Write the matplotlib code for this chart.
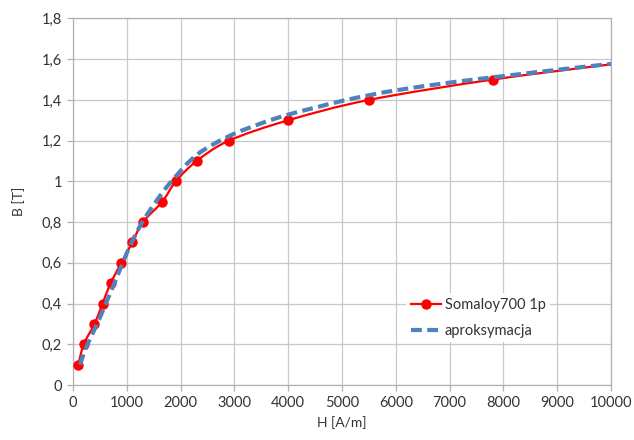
import matplotlib
matplotlib.use("Agg")
import matplotlib.pyplot as plt
from matplotlib.path import Path
from matplotlib.patches import PathPatch
from matplotlib.lines import Line2D
import numpy as np

plt.rcParams['font.family'] = ['Lato', 'DejaVu Sans']

# Measured series: Somaloy700 1p
meas_H = [100, 200, 400, 550, 700, 900, 1100, 1300, 1660, 1910, 2300, 2900, 4000, 5500, 7800, 10000]
meas_B = [0.1, 0.2, 0.3, 0.4, 0.5, 0.6, 0.7, 0.8, 0.9, 1.0, 1.1, 1.2, 1.3, 1.4, 1.5, 1.575]
n_markers = 15  # last point drawn without marker

# Approximation series
apr_H = [130, 270, 450, 610, 770, 925, 1090, 1290, 1540, 1830, 2300, 2900, 3500, 4000, 4500,
         5000, 5500, 6000, 7000, 8000, 9000, 10000]
apr_B = [0.1, 0.2, 0.3, 0.4, 0.5, 0.6, 0.7, 0.8, 0.9, 1.0, 1.13, 1.222, 1.285, 1.328, 1.362,
         1.395, 1.423, 1.447, 1.485, 1.517, 1.548, 1.577]

x_ticks = list(range(0, 10001, 1000))
y_ticks = [0, 0.2, 0.4, 0.6, 0.8, 1.0, 1.2, 1.4, 1.6, 1.8]
y_labels = ['0', '0,2', '0,4', '0,6', '0,8', '1', '1,2', '1,4', '1,6', '1,8']


def smooth_path(xs, ys):
    p = np.column_stack([xs, ys]).astype(float)
    n = len(p)
    verts = [p[0]]
    codes = [Path.MOVETO]
    for i in range(n - 1):
        p0 = p[i - 1] if i > 0 else p[i]
        p1 = p[i]
        p2 = p[i + 1]
        p3 = p[i + 2] if i + 2 < n else p[i + 1]
        c1 = p1 + (p2 - p0) / 6.0
        c2 = p2 - (p3 - p1) / 6.0
        verts += [c1, c2, p2]
        codes += [Path.CURVE4] * 3
    return Path(verts, codes)


fig = plt.figure(figsize=(6.34, 4.40), dpi=100)
ax = fig.add_axes([0.1151, 0.125, 0.8486, 0.833])

red = '#ff0000'
blue = '#4f81bd'
txt = '#333333'

ax.add_patch(PathPatch(smooth_path(meas_H, meas_B), fill=False, edgecolor=red, lw=1.6, zorder=3,
                       capstyle='round', joinstyle='round'))
ax.plot(meas_H[:n_markers], meas_B[:n_markers], linestyle='none', marker='o', color=red,
        markersize=6.5, zorder=4)
ax.add_patch(PathPatch(smooth_path(apr_H, apr_B), fill=False, edgecolor=blue, lw=3.0, zorder=5,
                       linestyle=(0, (2.6, 1.3)), capstyle='butt'))

ax.set_xlim(0, 10000)
ax.set_ylim(0, 1.8)
ax.set_xticks(x_ticks)
ax.set_xticklabels([str(v) for v in x_ticks])
ax.set_yticks(y_ticks)
ax.set_yticklabels(y_labels)
ax.grid(True, color='#c8c8c8', lw=0.9, zorder=0)
ax.set_axisbelow(True)
for s in ax.spines.values():
    s.set_color('#b0b0b0')
    s.set_linewidth(0.9)
ax.tick_params(axis='both', colors='#b0b0b0', labelcolor=txt, labelsize=10.5,
               length=4, width=0.9)
ax.tick_params(axis='x', pad=4)
ax.tick_params(axis='y', pad=4)

ax.set_xlabel('H [A/m]', fontsize=10, color=txt, labelpad=4)
ax.set_ylabel('B [T]', fontsize=10, color=txt, labelpad=12)

handles = [Line2D([], [], color=red, lw=1.6, marker='o', markersize=6.5),
           Line2D([], [], color=blue, lw=3.0, linestyle=(0, (2.6, 1.3)))]
leg = ax.legend(handles, ['Somaloy700 1p', 'aproksymacja'], loc='center left',
                bbox_to_anchor=(0.606, 0.183), frameon=True, fancybox=False,
                edgecolor='none', facecolor='white', framealpha=1, fontsize=10.5,
                handlelength=2.1, handletextpad=0.25, labelspacing=0.85, borderpad=0.3)
for t in leg.get_texts():
    t.set_color(txt)

fig.savefig('out.png', dpi=100)
